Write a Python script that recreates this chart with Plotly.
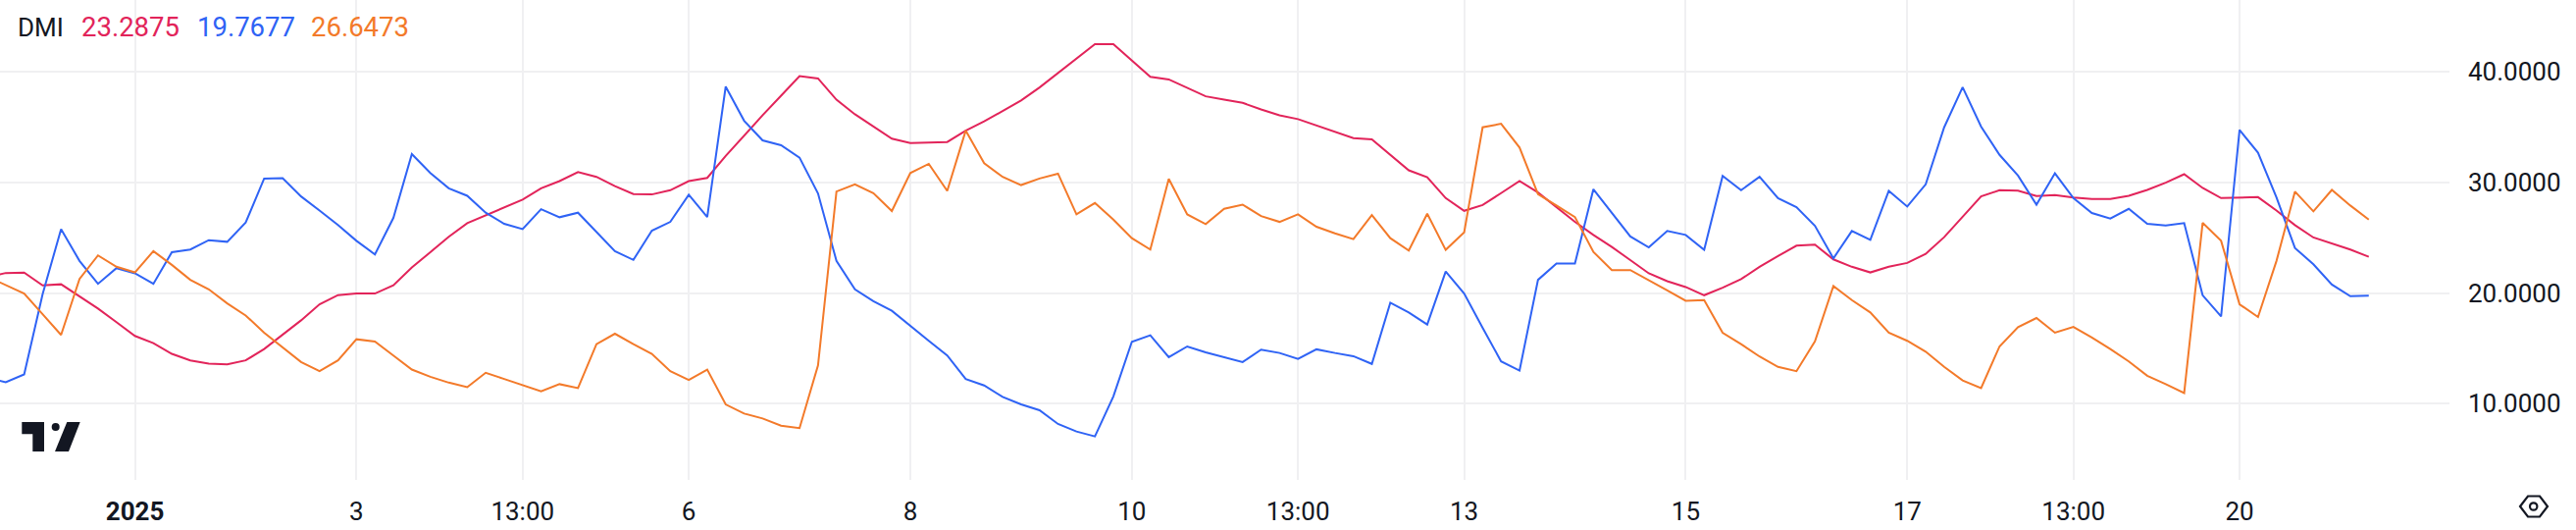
import plotly.graph_objects as go
import pandas as pd

# ---- data (4h candles, first value at 2024-12-30 16:00 UTC) ----
adx = [21.45, 21.82, 21.85, 20.70, 20.80, 19.70, 18.60, 17.37, 16.13, 15.48,
       14.51, 13.92, 13.62, 13.56, 13.92, 14.95, 16.22, 17.54, 18.99, 19.82,
       19.96, 19.96, 20.70, 22.32, 23.70, 25.09, 26.32, 27.03, 27.77, 28.45,
       29.48, 30.13, 30.95, 30.51, 29.68, 28.95, 28.92, 29.30, 30.13, 30.42,
       32.40, 34.25, 36.08, 37.85, 39.62, 39.41, 37.49, 36.17, 35.08, 33.96,
       33.57, 33.60, 33.66, 34.69, 35.52, 36.46, 37.41, 38.59, 39.91, 41.18,
       42.51, 42.51, 41.03, 39.56, 39.32, 38.53, 37.79, 37.49, 37.20, 36.61,
       36.08, 35.73, 35.14, 34.55, 34.02, 33.90, 32.48, 31.10, 30.48, 28.59,
       27.44, 27.97, 29.04, 30.13, 29.10, 27.77, 26.44, 25.26, 24.17, 22.99,
       21.79, 21.08, 20.55, 19.81, 20.49, 21.26, 22.38, 23.35, 24.29, 24.38,
       23.05, 22.38, 21.87, 22.38, 22.73, 23.55, 25.06, 26.90, 28.74, 29.30,
       29.27, 28.77, 28.86, 28.65, 28.51, 28.51, 28.80, 29.33, 29.98, 30.75,
       29.51, 28.59, 28.65, 28.68, 27.47, 26.15, 25.03, 24.47, 23.94, 23.2875]

plus_di = [12.35, 11.94, 12.65, 19.90, 25.79, 22.91, 20.84, 22.26, 21.79, 20.84,
           23.70, 23.94, 24.79, 24.64, 26.38, 30.36, 30.39, 28.74, 27.47, 26.15,
           24.73, 23.50, 26.80, 32.57, 30.86, 29.48, 28.80, 27.27, 26.27, 25.79,
           27.59, 26.86, 27.27, 25.56, 23.79, 23.00, 25.65, 26.44, 28.90, 26.88,
           38.67, 35.58, 33.81, 33.37, 32.25, 29.01, 22.91, 20.34, 19.28, 18.40,
           17.01, 15.69, 14.36, 12.24, 11.65, 10.62, 9.94, 9.41, 8.17, 7.49,
           7.05, 10.67, 15.60, 16.19, 14.21, 15.18, 14.65, 14.21, 13.77, 14.89,
           14.59, 14.06, 14.92, 14.59, 14.30, 13.60, 19.13, 18.25, 17.16, 21.96,
           19.96, 16.86, 13.83, 13.00, 21.20, 22.67, 22.67, 29.39, 27.24, 25.12,
           24.14, 25.62, 25.26, 23.91, 30.60, 29.30, 30.51, 28.59, 27.77, 26.09,
           23.14, 25.62, 24.82, 29.24, 27.83, 29.83, 34.99, 38.61, 35.05, 32.50,
           30.63, 28.00, 30.83, 28.59, 27.24, 26.74, 27.62, 26.27, 26.12, 26.33,
           19.81, 17.90, 34.75, 32.69, 28.65, 24.08, 22.61, 20.78, 19.72, 19.7677]

minus_di = [21.50, 20.75, 19.96, 18.10, 16.22, 21.28, 23.41, 22.38, 21.87, 23.79,
            22.55, 21.20, 20.34, 19.07, 17.98, 16.42, 15.10, 13.77, 12.94, 13.92,
            15.83, 15.63, 14.36, 13.09, 12.44, 11.91, 11.50, 12.80, 12.24, 11.71,
            11.12, 11.77, 11.41, 15.39, 16.33, 15.39, 14.51, 12.94, 12.15, 13.09,
            9.94, 9.11, 8.67, 8.02, 7.79, 13.47, 29.18, 29.83, 29.03, 27.42,
            30.86, 31.69, 29.24, 34.69, 31.75, 30.51, 29.77, 30.36, 30.80, 27.12,
            28.15, 26.65, 24.97, 23.94, 30.33, 27.12, 26.24, 27.62, 28.00, 26.97,
            26.44, 27.12, 26.00, 25.41, 24.88, 27.05, 24.97, 23.85, 27.18, 23.91,
            25.50, 34.99, 35.31, 33.16, 28.95, 27.92, 26.88, 23.73, 22.08, 22.08,
            21.20, 20.25, 19.31, 19.37, 16.42, 15.39, 14.27, 13.33, 12.94, 15.63,
            20.64, 19.37, 18.25, 16.42, 15.69, 14.71, 13.33, 12.10, 11.41, 15.18,
            16.92, 17.75, 16.42, 16.95, 15.98, 14.95, 13.83, 12.53, 11.77, 10.97,
            26.35, 24.73, 18.99, 17.84, 22.91, 29.18, 27.39, 29.33, 27.92, 26.6473]

tick_dates = ["2025-01-01 00:00", "2025-01-03 00:00", "2025-01-04 12:00", "2025-01-06 00:00",
              "2025-01-08 00:00", "2025-01-10 00:00", "2025-01-11 12:00", "2025-01-13 00:00",
              "2025-01-15 00:00", "2025-01-17 00:00", "2025-01-18 12:00", "2025-01-20 00:00"]
tick_labels = ["<b>2025</b>", "3", "13:00", "6", "8", "10", "13:00", "13", "15", "17", "13:00", "20"]
y_ticks = [10, 20, 30, 40]

times = pd.date_range("2024-12-30 16:00", periods=len(adx), freq="4h")

C_ADX = "#E2245A"
C_PLUS = "#2F63F5"
C_MINUS = "#F37A2A"
TXT = "#131722"
GRID = "#F0F0F2"
FONT = "Roboto"

W, H = 2626, 540
PW, PH = 2497, 489  # plot area size in px

fig = go.Figure()
for vals, col in [(adx, C_ADX), (plus_di, C_PLUS), (minus_di, C_MINUS)]:
    fig.add_trace(go.Scatter(x=times, y=vals, mode="lines",
                             line=dict(color=col, width=2), showlegend=False,
                             hoverinfo="skip"))

t0 = pd.Timestamp("2024-12-30 20:00")
step = pd.Timedelta(hours=4)
x_range = [t0 - 0.308 * step, t0 + 132.37 * step]

fig.update_layout(
    width=W, height=H,
    margin=dict(l=0, r=W - PW, t=0, b=H - PH, pad=0),
    paper_bgcolor="white", plot_bgcolor="white",
    font=dict(family=FONT, size=26, color=TXT),
    hovermode=False,
    xaxis=dict(range=x_range, tickvals=pd.to_datetime(tick_dates), ticktext=tick_labels,
               showgrid=True, gridcolor=GRID, gridwidth=2, zeroline=False, showline=False,
               ticks="", ticklabelstandoff=14, automargin=False,
               tickfont=dict(size=26, color=TXT, family=FONT)),
    yaxis=dict(range=[3.11, 46.5], side="right", tickvals=y_ticks,
               ticktext=[f"{v:.4f}" for v in y_ticks],
               showgrid=True, gridcolor=GRID, gridwidth=2, zeroline=False, showline=False,
               ticks="", ticklabelstandoff=18, automargin=False,
               tickfont=dict(size=26, color=TXT, family=FONT)),
)

def P(x, y):
    return x / PW, 1 - y / PH

# legend text
for txt, col, xpx, fs in [("DMI", TXT, 17, 26), ("23.2875", C_ADX, 82, 27.5),
                          ("19.7677", C_PLUS, 199.5, 27.5), ("26.6473", C_MINUS, 316, 27.5)]:
    px_, py_ = P(xpx, 28)
    fig.add_annotation(x=px_, y=py_, xref="paper", yref="paper", text=txt, showarrow=False,
                       xanchor="left", yanchor="middle", font=dict(size=fs, color=col, family=FONT),
                       borderpad=0)

def path(points):
    s = ""
    for i, (x, y) in enumerate(points):
        a, b = P(x, y)
        s += ("M" if i == 0 else "L") + f"{a:.6f},{b:.6f} "
    return s + "Z"

# TradingView logo
fig.add_shape(type="path", xref="paper", yref="paper", line=dict(width=0), fillcolor=TXT,
              path=path([(22.3, 430), (45, 430), (45, 460), (33.3, 460), (33.3, 442.3), (22.3, 442.3)]))
fig.add_shape(type="path", xref="paper", yref="paper", line=dict(width=0), fillcolor=TXT,
              path=path([(68.3, 430), (81.7, 430), (70, 460), (56, 460)]))
c0 = P(52.7, 431); c1 = P(60.7, 439)
fig.add_shape(type="circle", xref="paper", yref="paper", x0=c0[0], x1=c1[0], y0=c1[1], y1=c0[1],
              line=dict(width=0), fillcolor=TXT)

# settings icon
fig.add_shape(type="path", xref="paper", yref="paper", line=dict(width=2.2, color=TXT),
              fillcolor="rgba(0,0,0,0)",
              path=path([(2569, 516), (2577, 505.5), (2589, 505.5), (2597, 516), (2589, 526.5), (2577, 526.5)]))
d0 = P(2579, 512.3); d1 = P(2586.4, 519.7)
fig.add_shape(type="circle", xref="paper", yref="paper", x0=d0[0], x1=d1[0], y0=d1[1], y1=d0[1],
              line=dict(width=2.2, color=TXT), fillcolor="rgba(0,0,0,0)")

fig.write_html("out.html", config={"displayModeBar": False},
               post_script="document.body.style.margin='0';")
